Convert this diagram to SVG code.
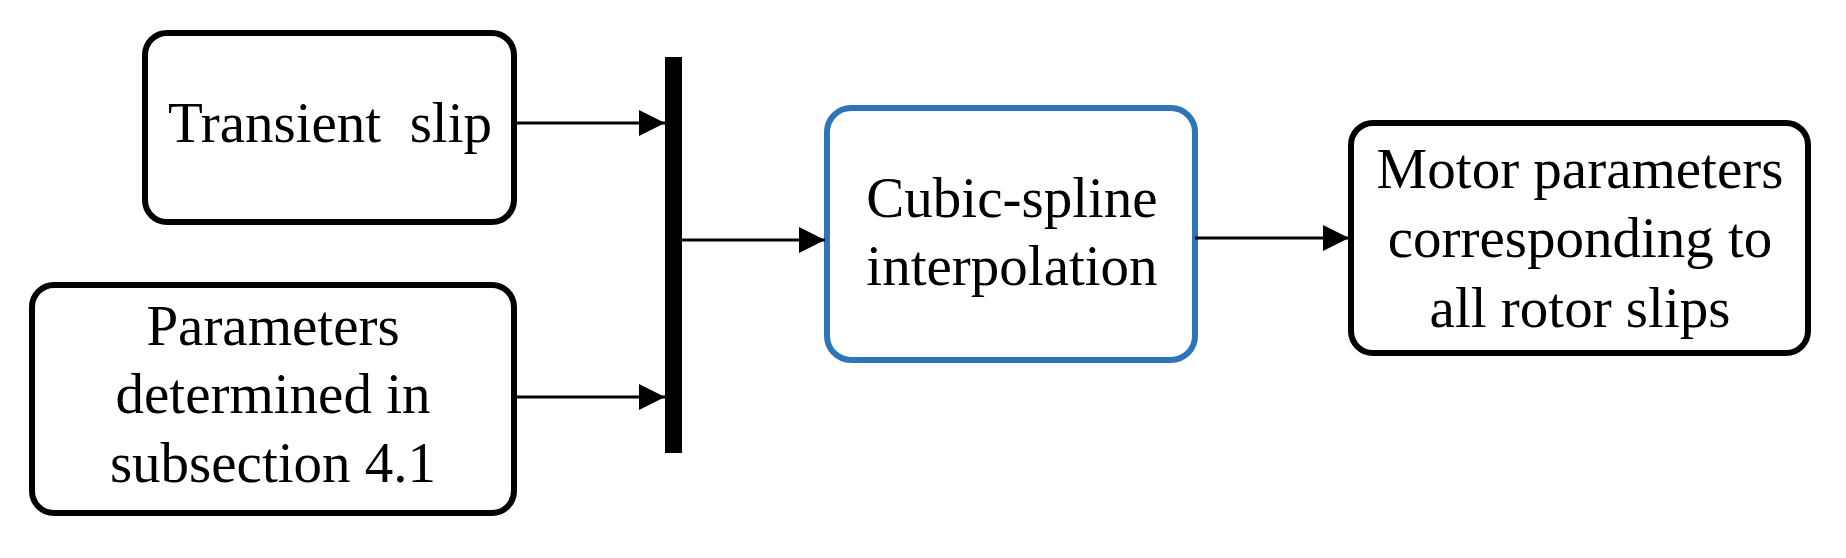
<svg xmlns="http://www.w3.org/2000/svg" width="1846" height="558" viewBox="0 0 1846 558">
<style>
.box{fill:#fff;stroke:#000;stroke-width:6}
.blue{fill:#fff;stroke:#2e74b8;stroke-width:6}
.lbl{font-family:'Liberation Serif','DejaVu Serif',serif;font-size:57px;fill:#000;text-anchor:middle}
.conn{stroke:#000;stroke-width:3;fill:none}
</style>
<defs>
<marker id="arr" markerUnits="userSpaceOnUse" markerWidth="28" markerHeight="28" refX="26" refY="13" orient="auto">
<path d="M0,0 L26,13 L0,26 z" fill="#000"/>
</marker>
</defs>
<rect width="1846" height="558" fill="#fff"/>
<g id="transient-slip">
<rect class="box" x="145" y="33" width="369" height="189" rx="22"/>
<text class="lbl" x="330" y="142" xml:space="preserve">Transient  slip</text>
</g>
<g id="parameters-determined">
<rect class="box" x="32" y="285" width="482" height="228" rx="22"/>
<text class="lbl" x="273" y="345">Parameters</text>
<text class="lbl" x="273" y="413">determined in</text>
<text class="lbl" x="273" y="482">subsection 4.1</text>
</g>
<g id="bar">
<rect x="665" y="57" width="17" height="396" fill="#000"/>
</g>
<g id="cubic-spline">
<rect class="blue" x="827" y="108" width="368" height="252" rx="24"/>
<text class="lbl" x="1012" y="217">Cubic-spline</text>
<text class="lbl" x="1012" y="285">interpolation</text>
</g>
<g id="motor-parameters">
<rect class="box" x="1351" y="123" width="457" height="230" rx="22"/>
<text class="lbl" x="1580" y="188">Motor parameters</text>
<text class="lbl" x="1580" y="257">corresponding to</text>
<text class="lbl" x="1580" y="327">all rotor slips</text>
</g>
<g id="connectors">
<line class="conn" x1="514" y1="123" x2="665" y2="123" marker-end="url(#arr)"/>
<line class="conn" x1="514" y1="397" x2="665" y2="397" marker-end="url(#arr)"/>
<line class="conn" x1="682" y1="240" x2="825" y2="240" marker-end="url(#arr)"/>
<line class="conn" x1="1195" y1="238" x2="1349" y2="238" marker-end="url(#arr)"/>
</g>
</svg>
